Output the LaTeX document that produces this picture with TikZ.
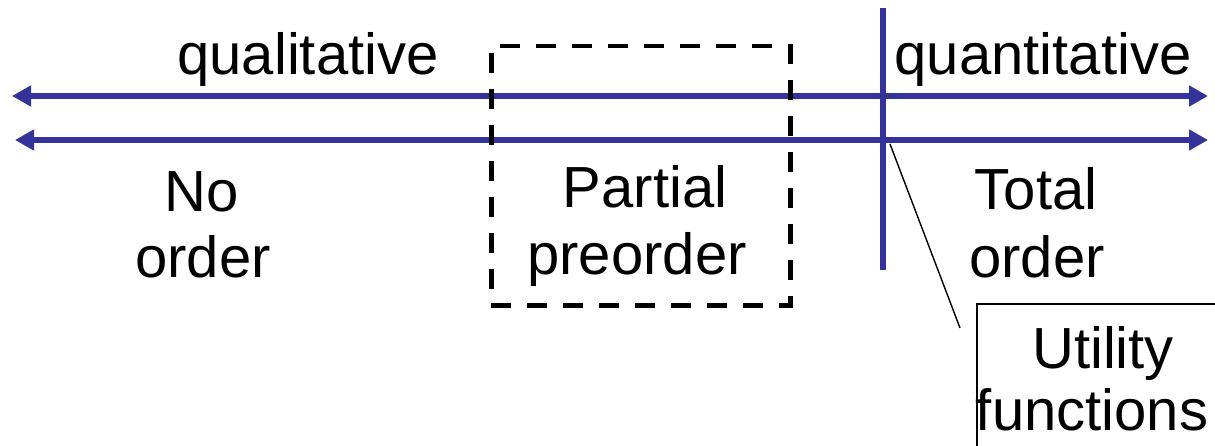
\documentclass[tikz,border=0pt]{standalone}
\usepackage{fontspec}
\setmainfont{Liberation Sans}
\usetikzlibrary{arrows.meta}
\definecolor{axisblue}{RGB}{51,51,153}
\begin{document}
\begin{tikzpicture}[x=1pt,y=-1pt,
  axis/.style={draw=axisblue,line width=6pt,{Triangle[length=19pt,width=20pt]}-{Triangle[length=19pt,width=20pt]}},
  bar/.style={draw=axisblue,line width=6pt},
  lbl/.style={inner sep=0pt,anchor=base,font=\fontsize{58}{66}\selectfont},
  dashbox/.style={draw=black,line width=4.5pt,dash pattern=on 20pt off 16pt},
  utilbox/.style={draw=black,line width=2pt,anchor=north west,minimum width=260pt,minimum height=160pt,inner sep=0pt},
  thin/.style={draw=black,line width=1.4pt}]
\useasboundingbox (0,0) rectangle (1215,446);
\clip (0,0) rectangle (1215,446);
% axes
\coordinate (tl) at (12,96); \coordinate (tr) at (1208,96);
\coordinate (bl) at (15,140); \coordinate (br) at (1208,140);
\draw[axis] (tl) -- (tr);
\draw[axis] (bl) -- (br);
% vertical separator
\coordinate (vt) at (883,8); \coordinate (vb) at (883,270);
\draw[bar] (vt) -- (vb);
% dashed box
\node[dashbox,minimum width=299pt,minimum height=259pt,anchor=north west,inner sep=0pt] (pbox) at (489,44) {};
% labels
\node[lbl] (qual) at (308,75) {qualitative};
\node[lbl] (quant) at (1043,75) {quantitative};
\node[lbl] (no1) at (202,212) {No};
\node[lbl] (no2) at (203,278) {order};
\node[lbl] (pp1) at (645,208) {Partial};
\node[lbl] (pp2) at (637,275) {preorder};
\node[lbl] (to1) at (1036,210) {Total};
\node[lbl] (to2) at (1037,277) {order};
% utility box
\node[utilbox] (util) at (976,303) {};
\node[lbl] (ut1) at (1103,368) {Utility};
\node[lbl] (ut2) at (1092,430) {functions};
% pointer
\coordinate (cross) at (890,144);
\coordinate (tip) at (960,328);
\draw[thin] (cross) -- (tip);
\end{tikzpicture}
\end{document}
